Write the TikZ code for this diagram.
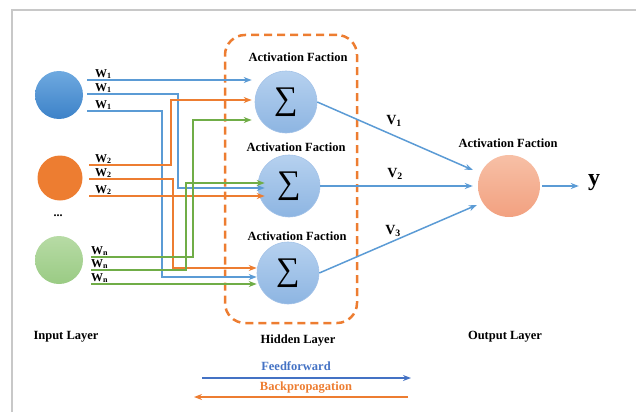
\documentclass[tikz,border=0pt]{standalone}
\usepackage{fontspec}
\setmainfont{Liberation Serif}
\usetikzlibrary{arrows.meta,calc}
\definecolor{cblue}{HTML}{5B9BD5}
\definecolor{corange}{HTML}{ED7D31}
\definecolor{cgreen}{HTML}{70AD47}
\definecolor{ffblue}{HTML}{4472C4}
\definecolor{framegray}{HTML}{C8C8C8}
\definecolor{hidtop}{HTML}{B6D1EF}
\definecolor{hidbot}{HTML}{8DB5E2}
\definecolor{hidline}{HTML}{A4C3E8}
\definecolor{outtop}{HTML}{F7C0A6}
\definecolor{outbot}{HTML}{F2A180}
\definecolor{intop}{HTML}{6EA9E0}
\definecolor{inbot}{HTML}{3D82C8}
\definecolor{gtop}{HTML}{B7DBA5}
\definecolor{gbot}{HTML}{9ACB84}
\begin{document}
\begin{tikzpicture}[x=1pt,y=-1pt,
  tipst/.style={-{Stealth[length=8pt,width=6pt]}},
  wire/.style={line width=1.8pt, tipst},
  bw/.style={wire, draw=cblue},
  ow/.style={wire, draw=corange},
  gw/.style={wire, draw=cgreen},
  lbl/.style={font=\fontsize{12.5}{14}\selectfont\bfseries, inner sep=0pt},
  wlbl/.style={font=\fontsize{12}{14}\selectfont\bfseries, inner sep=0pt, anchor=base west},
  vlbl/.style={font=\fontsize{14}{16}\selectfont\bfseries, inner sep=0pt},
  hid/.style={circle, minimum size=62pt, inner sep=0pt, draw=hidline, line width=0.6pt,
    top color=hidtop, bottom color=hidbot, font=\fontsize{33}{33}\selectfont},
  inp/.style={circle, minimum size=48pt, inner sep=0pt},
]
\useasboundingbox (0,0) rectangle (636,412);
\draw[framegray, line width=1.5pt] (12,412) -- (12,10) -- (636,10);

% input nodes
\node[inp, top color=intop, bottom color=inbot] (i1) at (59,95) {};
\node[inp, minimum size=45pt, fill=corange] (i2) at (60,178) {};
\node[inp, top color=gtop, bottom color=gbot] (i3) at (59,260) {};
\node[font=\fontsize{12}{12}\selectfont\bfseries, inner sep=0pt] (dots) at (58,216) {...};

% hidden box
\node[draw=corange, line width=2.5pt, dash pattern=on 8pt off 5pt, rounded corners=20pt,
  minimum width=132pt, minimum height=288pt, inner sep=0pt] (hbox) at (291,179) {};

% hidden nodes
\node[hid] (h1) at (286,102) {∑};
\node[hid] (h2) at (289,186) {∑};
\node[hid] (h3) at (288,273) {∑};
\node[lbl] (a1) at (298,57) {Activation Faction};
\node[lbl] (a2) at (296,147) {Activation Faction};
\node[lbl] (a3) at (297,236) {Activation Faction};

% output
\node[circle, minimum size=62pt, inner sep=0pt, top color=outtop, bottom color=outbot] (out) at (509,186) {};
\node[lbl] (a4) at (508,143) {Activation Faction};
\node[font=\fontsize{24}{24}\selectfont\bfseries, inner sep=0pt] (yy) at (594,183) {y};

% start coordinates
\coordinate (sB1) at (87,80);
\coordinate (sB2) at (87,94);
\coordinate (sB3) at (87,111);
\coordinate (sO1) at (89,165);
\coordinate (sO2) at (89,179);
\coordinate (sO3) at (89,196);
\coordinate (sG1) at (91,257);
\coordinate (sG2) at (91,270);
\coordinate (sG3) at (91,284);

% end coordinates
\coordinate (eB1) at ([shift={(-3,-22)}]h1.west);
\coordinate (eO1) at ([shift={(-3,-2)}]h1.west);
\coordinate (eG1) at ([shift={(-3,18)}]h1.west);
\coordinate (eG2) at ([shift={(7,-3)}]h2.west);
\coordinate (eB2) at ([shift={(7,2)}]h2.west);
\coordinate (eO3) at ([shift={(7,10)}]h2.west);
\coordinate (eO2) at ([shift={(0,-5)}]h3.west);
\coordinate (eB3) at ([shift={(0,4)}]h3.west);
\coordinate (eG3) at ([shift={(0,11)}]h3.west);

% wires
\draw[bw] (sB1) -- (eB1);
\draw[bw] (sB2) -- ++(91,0) |- (eB2);
\draw[bw] (sB3) -- ++(75,0) |- (eB3);
\draw[ow] (sO1) -- ++(82,0) |- (eO1);
\draw[ow] (sO2) -- ++(84,0) |- (eO2);
\draw[ow] (sO3) -- (eO3);
\draw[gw] (sG1) -- ++(102,0) |- (eG1);
\draw[gw] (sG2) -- ++(95,0) |- (eG2);
\draw[gw] (sG3) -- (eG3);

% weight labels
\node[wlbl] (w11) at (95,77) {W\textsubscript{1}};
\node[wlbl] (w12) at (95,91) {W\textsubscript{1}};
\node[wlbl] (w13) at (95,108) {W\textsubscript{1}};
\node[wlbl] (w21) at (95,162) {W\textsubscript{2}};
\node[wlbl] (w22) at (95,176) {W\textsubscript{2}};
\node[wlbl] (w23) at (95,193) {W\textsubscript{2}};
\node[wlbl] (wn1) at (91,254) {W\textsubscript{n}};
\node[wlbl] (wn2) at (91,267) {W\textsubscript{n}};
\node[wlbl] (wn3) at (91,281) {W\textsubscript{n}};

% V connections
\draw[line width=1.5pt, draw=cblue, tipst] (h1.east) -- ([shift={(-5,-16)}]out.west);
\draw[line width=1.5pt, draw=cblue, tipst] (h2.east) -- ([shift={(-5,0)}]out.west);
\draw[line width=1.5pt, draw=cblue, tipst] (h3.east) -- ([shift={(-1,19)}]out.west);
\draw[line width=1.5pt, draw=cblue, tipst] ([xshift=2pt]out.east) -- ([xshift=-9pt]yy.west |- out.east);
\node[vlbl] (v1) at (394,121) {V\textsubscript{1}};
\node[vlbl] (v2) at (395,174) {V\textsubscript{2}};
\node[vlbl] (v3) at (393,231) {V\textsubscript{3}};

% layer labels
\node[lbl] (il) at (66,337) {Input Layer};
\node[lbl] (hl) at (298,341) {Hidden Layer};
\node[lbl] (ol) at (505,337) {Output Layer};

% legend
\node[lbl, text=ffblue] (ff) at (296,366) {Feedforward};
\node[lbl, text=corange] (bp) at (306,388) {Backpropagation};
\coordinate (ffL) at (202,378);
\coordinate (ffR) at (411,378);
\coordinate (bpR) at (408,397);
\coordinate (bpL) at (194,397);
\draw[line width=1.4pt, draw=ffblue, tipst] (ffL) -- (ffR);
\draw[line width=1.4pt, draw=corange, tipst] (bpR) -- (bpL);
\end{tikzpicture}
\end{document}
